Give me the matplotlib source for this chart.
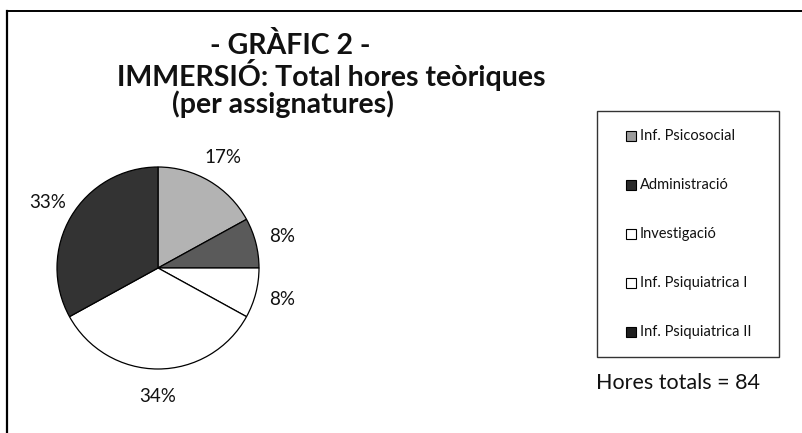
import matplotlib.pyplot as plt
from matplotlib.patches import Rectangle
from matplotlib.lines import Line2D

# data
subjects = ["Inf. Psicosocial", "Administració", "Investigació",
            "Inf. Psiquiatrica I", "Inf. Psiquiatrica II"]
percent = [17, 8, 8, 34, 33]
total_hours = 84

slice_colors = ["#b3b3b3", "#5a5a5a", "#ffffff", "#ffffff", "#333333"]
legend_colors = ["#9c9c9c", "#2a2a2a", "#ffffff", "#ffffff", "#1e1e1e"]

title_lines = ["- GRÀFIC 2 -", "IMMERSIÓ: Total hores teòriques", "(per assignatures)"]

plt.rcParams['font.family'] = ['Lato', 'DejaVu Sans']

W, H = 802, 433
fig = plt.figure(figsize=(W / 100, H / 100), dpi=100)

# frame (left and top only)
fig.add_artist(Line2D([7 / W, 7 / W], [0, 1 - 11 / H], color='black', lw=1.6))
fig.add_artist(Line2D([7 / W, 1], [1 - 11 / H, 1 - 11 / H], color='black', lw=1.4))

# title, one line at a time
title_pos = [(290, 46), (331, 75), (283, 104)]
for line, (x, y) in zip(title_lines, title_pos):
    fig.text(x / W, 1 - y / H, line, ha='center', va='center',
             fontsize=20.5, fontweight='bold', color='#111111')

# pie
cx, cy, r = 158, 268, 101
ax = fig.add_axes([(cx - 1.5 * r) / W, (H - cy - 1.5 * r) / H, 3 * r / W, 3 * r / H])
wedges, texts, autotexts = ax.pie(
    percent, colors=slice_colors, startangle=90, counterclock=False,
    autopct='%.0f%%', pctdistance=1.27,
    wedgeprops=dict(edgecolor='black', linewidth=0.9))
for t in autotexts:
    t.set_fontsize(13.5)
    t.set_color('#111111')
ax.set_xlim(-1.5, 1.5)
ax.set_ylim(-1.5, 1.5)
ax.set_aspect('equal')

# legend box
fig.add_artist(Rectangle((597 / W, 1 - 357 / H), 182 / W, 246 / H, fill=False,
                         edgecolor='#333333', lw=1.0, transform=fig.transFigure))
for i, (name, c) in enumerate(zip(subjects, legend_colors)):
    y = 136 + i * 49
    fig.add_artist(Rectangle((626 / W, 1 - (y + 5) / H), 10 / W, 10 / H,
                             facecolor=c, edgecolor='black', lw=0.8,
                             transform=fig.transFigure))
    fig.text(640 / W, 1 - y / H, name, fontsize=10.5, ha='left', va='center',
             color='#111111')

fig.text(596 / W, 1 - 383 / H, f"Hores totals = {total_hours}", fontsize=15.5,
         ha='left', va='center', color='#111111')

fig.savefig("out.png", dpi=100)
